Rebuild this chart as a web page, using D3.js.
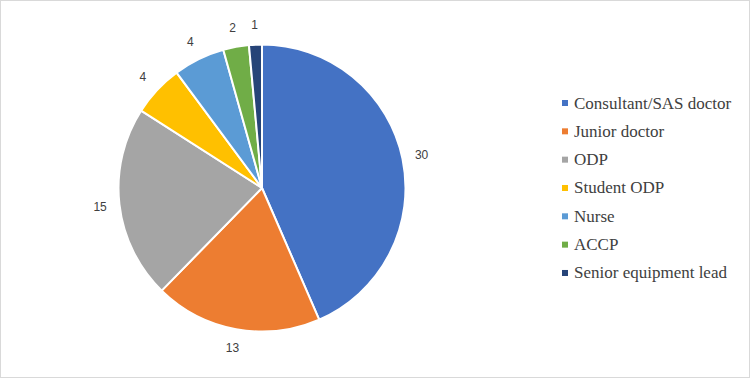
<!DOCTYPE html>
<html><head><meta charset="utf-8">
<script src="https://cdn.jsdelivr.net/npm/d3@7"></script>
<style>html,body{margin:0;padding:0;background:#fff;}</style>
</head><body>
<svg id="c" width="750" height="378"></svg>
<script>
const categories = ["Consultant/SAS doctor","Junior doctor","ODP","Student ODP","Nurse","ACCP","Senior equipment lead"];
const values = [30,13,15,4,4,2,1];
const colors = ["#4472C4","#ED7D31","#A5A5A5","#FFC000","#5B9BD5","#70AD47","#264478"];

const svg = d3.select("#c");
svg.append("rect").attr("x",0.5).attr("y",0.5).attr("width",749).attr("height",377)
  .attr("fill","#fff").attr("stroke","#d9d9d9");

const cx = 262, cy = 188, r = 143.5;
const data = categories.map((c,i)=>({cat:c,val:values[i],col:colors[i]}));
const pie = d3.pie().value(d=>d.val).sort(null);
const arc = d3.arc().innerRadius(0).outerRadius(r);
const labelArc = d3.arc().innerRadius(163).outerRadius(163);
const g = svg.append("g").attr("transform",`translate(${cx},${cy})`);
const arcs = pie(data);
g.selectAll("path").data(arcs).join("path")
  .attr("d",arc).attr("fill",d=>d.data.col)
  .attr("stroke","#fff").attr("stroke-width",2).attr("stroke-linejoin","round");
g.selectAll("text").data(arcs).join("text")
  .attr("transform",d=>`translate(${labelArc.centroid(d)})`)
  .attr("text-anchor","middle").attr("dominant-baseline","central")
  .attr("font-family","'Liberation Sans', Arial, sans-serif").attr("font-size",12)
  .attr("fill","#404040").text(d=>d.data.val);

const leg = svg.append("g").attr("transform","translate(562,103)");
const items = leg.selectAll("g").data(data).join("g")
  .attr("transform",(d,i)=>`translate(0,${i*28.33})`);
items.append("rect").attr("x",0).attr("y",-3).attr("width",6).attr("height",6).attr("fill",d=>d.col);
items.append("text").attr("x",12).attr("y",0).attr("dominant-baseline","central")
  .attr("font-family","'Liberation Serif','Times New Roman',serif").attr("font-size",17)
  .attr("fill","#404040").text(d=>d.cat);
</script>
</body></html>
